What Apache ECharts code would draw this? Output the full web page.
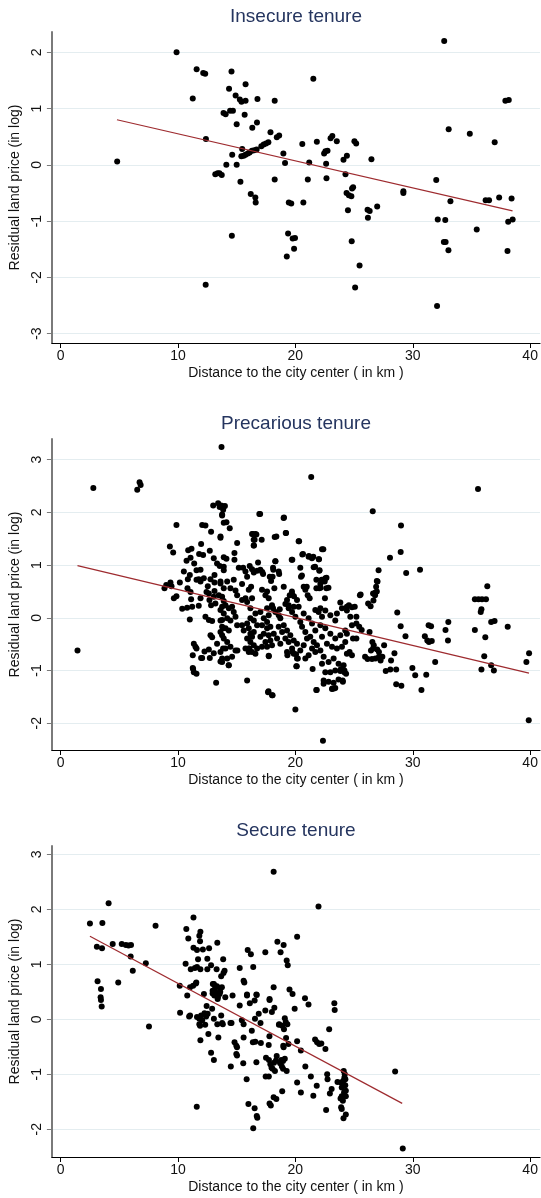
<!DOCTYPE html>
<html>
<head>
<meta charset="utf-8">
<script src="https://cdn.jsdelivr.net/npm/echarts@6/dist/echarts.min.js"></script>
<style>
html,body{margin:0;padding:0;background:#fff;}
#chart{width:541px;height:1198px;}
</style>
</head>
<body>
<div id="chart"></div>
<script>
// ---------- DATA ----------
const panelTitles = ['Insecure tenure', 'Precarious tenure', 'Secure tenure'];
const xTitle = 'Distance to the city center ( in km )';
const yTitle = 'Residual land price (in log)';
const xTicks = [0, 10, 20, 30, 40];
const yTicksInsecure = [-3, -2, -1, 0, 1, 2];
const yTicksPrecarious = [-2, -1, 0, 1, 2, 3];
const yTicksSecure = [-2, -1, 0, 1, 2, 3];

const insecurePoints = [
[4.82,0.06],[9.88,2.0],[11.26,1.18],[11.59,1.70],[12.15,1.63],[12.32,1.62],[12.38,0.46],[13.18,-0.17],[13.38,-0.15],[13.53,-0.15],[13.73,-0.18],[13.88,0.92],[14.06,0.90],[14.12,0.0],[14.35,1.35],[14.56,1.66],[14.44,0.96],[14.68,0.96],[14.62,0.18],[14.91,1.23],[15.0,0.72],[15.0,0.0],[15.32,-0.30],[15.27,1.16],[15.41,1.12],[15.76,1.14],[15.47,0.28],[15.76,1.43],[15.68,0.89],[15.4,0.15],[15.6,0.16],[15.75,0.18],[15.95,0.2],[16.1,0.22],[16.3,0.25],[16.5,0.26],[16.7,0.27],[16.33,0.66],[16.77,1.17],[16.73,0.75],[16.2,-0.52],[16.59,-0.58],[17.1,0.33],[17.3,0.36],[17.5,0.38],[17.7,0.4],[17.88,0.58],[18.24,1.14],[18.24,-0.26],[18.42,0.49],[18.62,0.52],[18.98,0.2],[19.12,0.03],[20.59,0.37],[21.06,-0.26],[21.18,0.04],[21.53,1.53],[21.83,0.41],[22.45,0.2],[22.56,0.24],[22.74,0.25],[22.62,0.02],[22.65,-0.24],[23.0,0.47],[23.15,0.51],[23.53,0.42],[24.1,0.09],[24.39,0.16],[24.27,-0.17],[24.36,-0.5],[24.56,-0.54],[24.77,-0.56],[24.83,-0.42],[24.92,-0.4],[25.03,0.42],[25.18,0.38],[26.48,0.1],[29.2,-0.47],[29.2,-0.5],[32.0,-0.27],[32.68,2.2],[33.06,0.63],[34.86,0.55],[36.98,0.4],[37.89,1.14],[38.18,1.15],
[16.62,-0.67],[19.44,-0.67],[19.65,-0.69],[20.68,-0.67],[24.48,-0.81],[26.15,-0.80],[26.33,-0.82],[26.97,-0.74],[26.18,-0.94],[33.21,-0.65],[36.21,-0.63],[36.5,-0.63],[37.36,-0.58],[38.42,-0.6],[32.13,-0.97],[32.77,-0.98],[38.13,-1.01],[38.51,-0.97],[35.45,-1.15],[14.59,-1.26],[19.38,-1.22],[19.77,-1.31],[19.97,-1.30],[19.89,-1.49],[19.27,-1.63],[24.8,-1.36],[32.65,-1.37],[32.8,-1.37],[33.04,-1.52],[38.07,-1.53],[25.47,-1.79],[12.36,-2.13],[25.09,-2.18],[32.07,-2.51]
];
const insecureFit = [[4.8, 0.80], [38.5, -0.82]];

const precariousPoints = [
[1.44,-0.62],[2.79,2.46],[6.53,2.43],[6.73,2.57],[6.82,2.52],[13.71,3.24],[21.35,2.67],[35.56,2.44],[26.59,2.02],[29.0,1.75],[28.97,1.25],[28.06,1.14],[29.44,0.85],[30.62,0.91],[27.09,0.9],[26.94,0.70],[25.56,0.44],[26.62,0.46],[26.82,0.48],[36.35,0.60],
[13.0,2.13],[13.42,2.17],[13.68,2.13],[13.9,2.11],[13.85,2.05],[13.76,1.94],[14.0,2.12],[13.55,2.1],
[9.87,1.76],[12.06,1.76],[12.34,1.75],[12.82,1.63],[13.62,1.52],[13.9,1.8],[9.31,1.35],[9.59,1.24],[10.87,1.28],[11.15,1.31],[11.97,1.4],[12.71,1.27],[11.8,1.21],[12.14,1.19],[11.07,1.14],[10.73,1.08],[11.38,1.03],[13.05,1.13],[13.33,1.03],[13.56,0.98],[13.9,1.15],[13.9,0.97],[10.5,0.88],[11.01,0.81],[11.58,0.9],[11.92,0.91],[13.11,0.81],[10.84,0.73],[11.58,0.72],[11.77,0.73],[12.2,0.75],[11.92,0.69],[12.77,0.73],[13.11,0.67],[13.62,0.69],[8.85,0.56],[9.36,0.67],[10.16,0.67],[10.81,0.56],[11.07,0.49],[12.54,0.6],[12.43,0.49],[12.63,0.46],[13.11,0.51],[13.48,0.43],[13.76,0.4],[9.87,0.41],[9.65,0.37],[11.12,0.35],[11.92,0.37],[12.68,0.34],[13.05,0.4],[12.82,0.24],[13.19,0.27],[13.9,0.32],[9.0,0.62],[9.45,0.6],
[10.36,0.17],[10.78,0.19],[11.21,0.21],[11.77,0.23],[11.01,-0.03],[12.34,0.02],[12.63,-0.04],[12.91,-0.06],[13.62,0.15],[13.76,-0.04],[13.76,-0.17],[13.84,-0.2],[12.77,-0.33],[12.91,-0.37],[13.33,-0.49],[13.76,-0.33],[11.35,-0.49],[11.49,-0.55],[11.58,-0.58],[12.26,-0.64],[12.63,-0.6],[13.05,-0.67],[13.84,-0.58],[13.76,-0.77],[13.62,-0.83],[11.26,-0.71],[11.97,-0.76],[12.71,-0.76],[11.26,-0.95],[11.35,-1.03],[11.58,-1.06],[13.25,-1.23],
[13.76,1.96],[14.13,1.81],[14.41,1.7],[13.62,1.54],[16.93,1.97],[19.0,1.89],[16.31,1.59],[16.6,1.59],[16.45,1.48],[16.45,1.37],[17.13,1.48],[19.18,1.61],[18.24,1.53],[20.28,1.45],[15.04,1.42],[14.81,1.23],[14.81,1.1],[14.13,1.12],[22.27,1.3],[20.59,1.2],[21.13,1.16],[21.41,1.13],[22.01,1.11],[19.69,1.1],[18.3,1.07],[18.1,0.95],[16.82,1.05],
[13.9,0.9],[15.18,0.95],[15.55,0.95],[15.75,0.88],[16.11,0.98],[16.31,0.92],[16.46,0.86],[16.74,0.89],[17.02,0.91],[17.25,0.83],
[13.62,0.65],[13.9,0.56],[14.19,0.69],[14.47,0.56],[14.75,0.72],[14.9,0.52],[15.04,0.43],[15.46,0.64],[15.89,0.78],[16.03,0.53],[16.23,0.59],[15.75,0.37],[15.46,0.34],[15.89,0.3],[16.31,0.37],[17.16,0.53],[17.59,0.5],[17.45,0.43],[17.73,0.37],[18.01,0.24],[17.82,0.78],[17.93,0.7],[18.21,0.56],[18.58,0.88],[19.01,0.59],[19.29,0.34],[19.52,0.43],[19.72,0.45],[20.14,0.34],[19.43,0.24],[19.15,0.26],[19.86,0.21],[20.42,0.95],[20.48,0.78],[20.71,0.59],[20.85,0.53],[21.05,0.43],[21.22,0.37],[21.56,0.96],[21.79,0.72],[21.79,0.56],[22.04,0.89],[22.04,0.56],[22.13,0.64],[22.55,0.75],[22.64,0.56],[22.52,0.37],[23.83,0.29],[24.39,0.21],[24.82,0.2],[22.13,0.18],[21.7,0.15],[18.1,0.18],[18.67,0.16],
[17.0,1.97],[19.03,1.9],[19.21,1.61],[20.32,1.45],[22.38,1.3],[19.74,1.1],[20.65,1.21],[21.15,1.17],[21.53,1.16],[22.0,1.11],[21.68,0.97],[22.06,0.9],[22.24,0.72],[22.5,0.69],[22.65,0.76],[22.82,0.57],[22.15,0.57],[20.56,0.8],[20.97,0.59],[19.71,0.5],[19.88,0.41],[18.62,0.83],[18.29,1.07],[18.38,1.54],[18.06,0.78],[18.12,0.91],[16.38,1.59],[16.68,1.58],[16.53,1.48],[16.47,1.37],[17.18,0.87],
[13.76,0.21],[14.05,0.24],[14.33,0.18],[14.61,0.21],[14.75,0.11],[13.9,0.08],[14.19,-0.01],[13.62,-0.05],[14.47,-0.05],[14.9,0.02],[15.04,-0.14],[14.05,-0.2],[13.62,-0.27],[14.33,-0.24],[13.9,-0.39],[14.19,-0.46],[14.47,-0.55],[14.05,-0.58],[13.62,-0.65],[14.61,-0.74],[14.19,-0.77],[14.33,-0.9],[13.76,-0.84],[14.9,-0.62],
[15.46,-0.14],[15.6,-0.24],[15.89,-0.11],[16.03,-0.2],[16.17,-0.3],[16.31,-0.36],[16.46,-0.27],[15.89,-0.39],[16.17,-0.46],[16.46,-0.52],[16.74,-0.58],[16.03,-0.58],[16.31,-0.65],[16.6,-0.68],[15.75,-0.58],[17.02,-0.36],[17.31,-0.3],[17.59,-0.2],[17.73,-0.33],[17.87,-0.43],[17.45,-0.46],[17.59,-0.55],[17.16,-0.55],[18.01,-0.52],[17.87,-0.17],[17.31,-0.01],[17.59,-0.08],[17.16,-0.14],[16.74,-0.14],[16.46,-0.05],[16.17,-0.01],[16.6,0.08],[17.02,0.11],[17.73,0.05],[17.59,0.18],[18.01,0.21],[16.17,0.18],[17.73,-0.72],
[18.3,0.11],[18.58,0.05],[18.72,-0.01],[19.01,-0.14],[19.29,-0.24],[19.57,-0.33],[19.86,-0.43],[20.14,-0.49],[18.58,-0.17],[18.87,-0.27],[19.15,-0.39],[19.43,-0.46],[19.72,-0.58],[19.29,-0.65],[19.86,-0.68],[20.14,-0.77],[20.08,-0.92],[20.42,-0.62],[20.71,-0.52],[20.99,-0.39],[21.27,-0.36],[20.85,-0.27],[20.57,-0.17],[20.42,-0.08],[20.0,0.02],[19.72,0.11],[19.43,0.18],[20.28,0.21],[20.71,0.08],[21.13,-0.01],[21.42,-0.11],[21.7,-0.24],[21.56,-0.46],[21.42,-0.58],[21.13,-0.71],[20.85,-0.77],[21.7,-0.65],[21.84,-0.52],[18.72,-0.49],[18.44,-0.39],[18.16,-0.3],
[21.98,0.11],[22.27,0.02],[22.55,0.14],[22.98,0.05],[23.4,-0.05],[23.54,0.08],[23.97,0.18],[24.39,0.14],[24.68,0.02],[24.82,-0.14],[24.25,-0.24],[23.83,-0.33],[23.4,-0.39],[22.98,-0.3],[22.55,-0.2],[22.13,-0.14],[22.27,-0.36],[22.69,-0.49],[23.12,-0.55],[23.54,-0.58],[23.97,-0.55],[24.39,-0.68],[24.82,-0.71],[22.13,-0.62],[22.41,-0.74],[22.83,-0.84],[23.26,-0.77],[23.68,-0.87],[24.11,-0.9],[22.27,-0.87],[22.55,-1.03],[22.98,-1.03],[23.4,-1.0],[23.83,-1.01],[24.17,-1.03],[22.41,-1.19],[22.83,-1.21],[23.26,-1.23],[23.68,-1.17],[24.05,-1.21],[23.12,-1.35],[23.4,-1.33],[24.39,-0.3],[24.25,-0.46],
[15.89,-1.19],[17.67,-1.41],[18.01,-1.47],[20.0,-1.74],[22.35,-2.33],[21.78,-1.37],
[24.56,0.24],[25.06,0.21],[25.5,0.43],[25.2,0.02],[25.2,-0.11],[25.44,-0.17],[25.65,-0.23],[24.91,-0.39],[25.2,-0.39],[24.62,-0.65],
[25.94,-0.74],[26.15,-0.78],[26.53,-0.78],[26.82,-0.77],[27.12,-0.74],[27.26,-0.81],
[26.32,-0.27],[26.56,-0.46],[26.62,-0.58],[26.44,-0.62],
[26.2,0.27],[26.41,0.22],[26.65,0.33],[26.79,0.43],[26.94,0.5],[26.88,0.59],[27.0,0.69],
[26.68,-0.52],[26.97,-0.6],[27.12,-0.65],[27.41,-0.74],
[27.7,-1.01],[28.09,-0.98],[28.59,-0.98],[27.56,-0.52],[28.15,-0.81],[28.44,-0.67],
[28.68,0.1],[28.97,-0.16],[28.59,-1.26],[29.03,-1.29],[29.38,-0.35],[29.97,-0.95],[30.21,-1.09],[30.74,-1.37],[31.15,-1.08],
[31.03,-0.35],[31.24,-0.43],[31.38,-0.46],[31.62,-0.44],[31.35,-0.14],[31.56,-0.16],[31.91,-0.84],
[32.79,-0.23],[33.0,-0.43],[33.03,-0.08],
[35.29,0.35],[35.6,0.35],[35.9,0.35],[36.24,0.35],[35.85,0.16],[35.79,0.11],[35.29,-0.23],[36.18,-0.37],[35.85,-0.98],[36.09,-0.73],[36.68,-0.9],[36.91,-1.0],[36.68,-0.08],[36.97,-0.06],[38.09,-0.17],[39.68,-0.84],[39.91,-0.67],[39.88,-1.94],
[11.29,-0.97],[12.06,-0.76],[14.32,-0.9],[15.06,-0.62],[16.03,-0.65],[16.09,-0.58],[17.74,-0.73],[17.71,-1.39],[18.06,-1.47],[19.32,-0.71],[19.76,-0.65],[20.06,-0.69],[20.21,-0.77],[20.12,-0.92],[21.47,-0.97],[21.82,-1.37],[22.41,-1.25],[23.15,-1.34],[23.29,-1.34],[24.03,-1.19],[24.32,-1.06],[23.88,-0.97],[24.18,-1.0]
];
const precariousFit = [[1.44, 0.99], [39.9, -1.05]];

const securePoints = [
[2.5,1.74],[3.56,1.75],[4.09,2.11],[3.09,1.32],[3.53,1.29],[4.44,1.37],[5.21,1.37],[5.56,1.35],[5.79,1.34],[6.0,1.35],[5.97,1.14],[6.15,0.88],[7.26,1.02],[8.09,1.70],[3.15,0.69],[3.44,0.55],[4.91,0.67],[3.41,0.4],[3.44,0.35],[3.5,0.23],[7.53,-0.13],
[11.32,1.85],[10.71,1.64],[10.88,1.47],[11.82,1.52],[11.91,1.59],[11.88,1.42],[11.32,1.3],[11.62,1.26],[12.12,1.27],[12.65,1.29],[13.35,1.39],[10.65,1.01],[11.09,0.91],[11.44,0.93],[11.62,0.95],[11.91,0.91],[11.71,1.09],[12.5,1.1],[12.82,0.98],[12.5,0.91],[13.29,0.91],[13.85,1.09],[13.97,0.88],[13.88,0.84],[13.68,0.78],[10.15,0.61],[11.03,0.58],[11.29,0.61],[11.53,0.65],[10.79,0.43],[12.21,0.46],[13.06,0.64],[13.15,0.55],[13.32,0.6],[13.59,0.57],[13.74,0.58],[12.95,0.47],[13.1,0.43],[13.4,0.4],[13.55,0.46],[14.03,0.4],[14.65,0.43],[15.26,0.93],[15.59,0.7],[15.65,0.67],[15.94,1.26],[16.21,1.18],[16.41,0.95],[15.88,0.45],[16.68,0.45],[17.44,1.22],[18.15,2.68],[18.47,1.41],[18.74,1.22],[19.0,1.35],[19.26,1.07],[19.35,0.98],[18.15,0.58],[17.8,0.35],[19.5,0.54],[19.76,0.46],[20.15,1.5],[20.82,0.38],[21.97,2.05],
[13.2,0.6],[12.95,0.52],[13.25,0.48],[13.6,0.5],
[10.18,0.12],[11.03,0.07],[11.56,0.67],[11.62,0.04],[11.82,0.01],[11.97,0.07],[12.06,-0.02],[11.82,-0.09],[11.88,-0.12],[12.32,-0.1],[12.53,0.1],[12.26,0.11],[12.44,0.24],[11.91,-0.38],[12.59,-0.27],[12.91,0.19],[13.06,0.01],[13.35,-0.09],[13.68,0.07],[13.82,-0.09],[13.44,-0.33],[12.82,-0.61],[13.06,-0.74],[12.97,0.64],[13.38,0.37],[14.56,-0.07],[14.5,-0.86],[15.26,0.25],[15.44,-0.02],[15.59,-0.09],[14.82,-0.42],[14.97,-0.48],[15.03,-0.51],[14.97,-0.63],[15.03,-0.66],[15.59,-0.33],[15.56,-0.8],[15.85,-1.09],[15.88,0.43],[16.12,0.29],[16.29,-0.21],[16.38,-0.42],[16.59,-0.41],[16.56,0.01],[16.71,0.44],[16.68,-0.78],[16.0,-1.54],[16.53,-1.62],[16.71,-1.76],[16.76,-1.79],[16.41,-1.98],[17.03,-0.07],[17.06,-0.43],[17.44,0.16],[17.47,-1.04],[17.74,-1.04],
[17.5,-0.7],[17.75,-0.74],[17.87,-0.82],[17.97,-0.88],[18.18,-0.79],[18.35,-0.75],[18.41,-0.67],[18.06,-0.9],[18.26,-0.94],
[17.8,-1.53],[17.91,-1.57],[18.15,-1.42],[18.38,-1.45],[17.8,0.37],[18.0,0.13],[18.21,0.21],[18.62,-0.09],[18.88,-0.12],[19.03,-0.18],[19.18,-0.05],[19.32,-0.09],[18.97,-0.48],[19.21,-0.34],[19.41,-0.45],[19.0,-0.51],
[18.8,-0.74],[18.95,-0.76],[19.1,-0.72],[18.7,-0.8],[18.85,-0.86],[18.95,-0.9],[19.26,-0.94],
[18.88,-1.31],[19.94,0.19],[20.15,-0.4],[20.47,-0.57],[20.15,-1.15],[20.47,-1.33],[21.12,0.27],[20.85,-0.86],[21.32,-1.04],[21.53,-1.39],[21.68,-0.37],[21.85,-0.42],[22.03,-0.45],[22.21,-0.44],[21.82,-1.21],[22.56,-0.54],[22.71,-1.0],[22.74,-1.09],[22.88,-0.18],[22.62,-1.65],[22.94,-1.35],[23.09,-1.27],[23.32,0.29],[23.35,0.17],[23.59,-1.14],[23.88,-1.15],[24.09,-1.12],[24.12,-0.94],[24.21,-1.0],[24.18,-1.06],[24.26,-1.09],
[23.95,-1.24],[24.15,-1.33],[24.3,-1.3],[23.95,-1.4],[23.85,-1.44],[24.05,-1.48],[24.3,-1.4],[24.25,-1.2],[23.9,-1.6],[23.95,-1.63],[24.1,-1.8],[24.3,-1.73],
[28.5,-0.95],[29.15,-2.35],
[17.73,-0.47],[17.79,-0.31],[11.6,-1.59],[10.95,0.05],[12.4,0.05],[16.88,0.1],[16.53,0.34],[19.1,0.02],[18.6,-0.1],[13.76,-0.07],[14.47,-0.07]
];
const secureFit = [[2.5, 1.51], [29.1, -1.53]];

// ---------- LAYOUT ----------
const yRanges = [[-3.167, 2.36], [-2.506, 3.39], [-2.505, 3.15]];
const gridTops = [32, 439, 846];
const gridH = 311;
const titleTops = [7, 414, 821];
const yTickSets = [yTicksInsecure, yTicksPrecarious, yTicksSecure];
const pointSets = [insecurePoints, precariousPoints, securePoints];
const fitSets = [insecureFit, precariousFit, secureFit];
const FONT = 'Liberation Sans, Arial, Helvetica, sans-serif';

const chart = echarts.init(document.getElementById('chart'), null, {renderer: 'canvas'});
const grids = [], xAxes = [], yAxes = [], series = [], titles = [];
for (let i = 0; i < 3; i++) {
  grids.push({left: 51, right: 1, top: gridTops[i], height: gridH, containLabel: false});
  titles.push({
    text: panelTitles[i], left: 296, top: titleTops[i], textAlign: 'center', padding: 0,
    textStyle: {fontFamily: FONT, fontSize: 19, fontWeight: 'normal', color: '#25355f'}
  });
  xAxes.push({
    type: 'value', gridIndex: i, min: -0.74, max: 40.84,
    name: xTitle, nameLocation: 'middle', nameGap: 23,
    nameTextStyle: {fontFamily: FONT, fontSize: 14, color: '#111'},
    axisLine: {show: true, onZero: false, lineStyle: {color: '#000', width: 1.2}},
    axisTick: {show: true, length: 5, customValues: xTicks, lineStyle: {color: '#000', width: 1}},
    axisLabel: {customValues: xTicks, margin: 6, fontFamily: FONT, fontSize: 14, color: '#111'},
    splitLine: {show: false}
  });
  yAxes.push({
    type: 'value', gridIndex: i, min: yRanges[i][0], max: yRanges[i][1],
    name: yTitle, nameLocation: 'middle', nameGap: 23,
    nameTextStyle: {fontFamily: FONT, fontSize: 14, color: '#111'},
    axisLine: {show: true, onZero: false, lineStyle: {color: '#7a7a7a', width: 2}},
    axisTick: {show: true, length: 5, customValues: yTickSets[i], lineStyle: {color: '#7a7a7a', width: 1}},
    axisLabel: {customValues: yTickSets[i], rotate: 90, margin: 8, fontFamily: FONT, fontSize: 14, color: '#111'},
    splitLine: {show: true, lineStyle: {color: '#e4edf0', width: 1}}
  });
  series.push({
    type: 'scatter', xAxisIndex: i, yAxisIndex: i, data: pointSets[i],
    symbol: 'circle', symbolSize: 6, itemStyle: {color: '#000', opacity: 1}, silent: true, z: 2
  });
  series.push({
    type: 'line', xAxisIndex: i, yAxisIndex: i, data: fitSets[i],
    showSymbol: false, symbol: 'none', lineStyle: {color: '#9e2b2f', width: 1.2}, silent: true, z: 3
  });
}
chart.setOption({
  backgroundColor: '#fff', animation: false,
  title: titles, grid: grids, xAxis: xAxes, yAxis: yAxes, series: series
});
</script>
</body>
</html>
